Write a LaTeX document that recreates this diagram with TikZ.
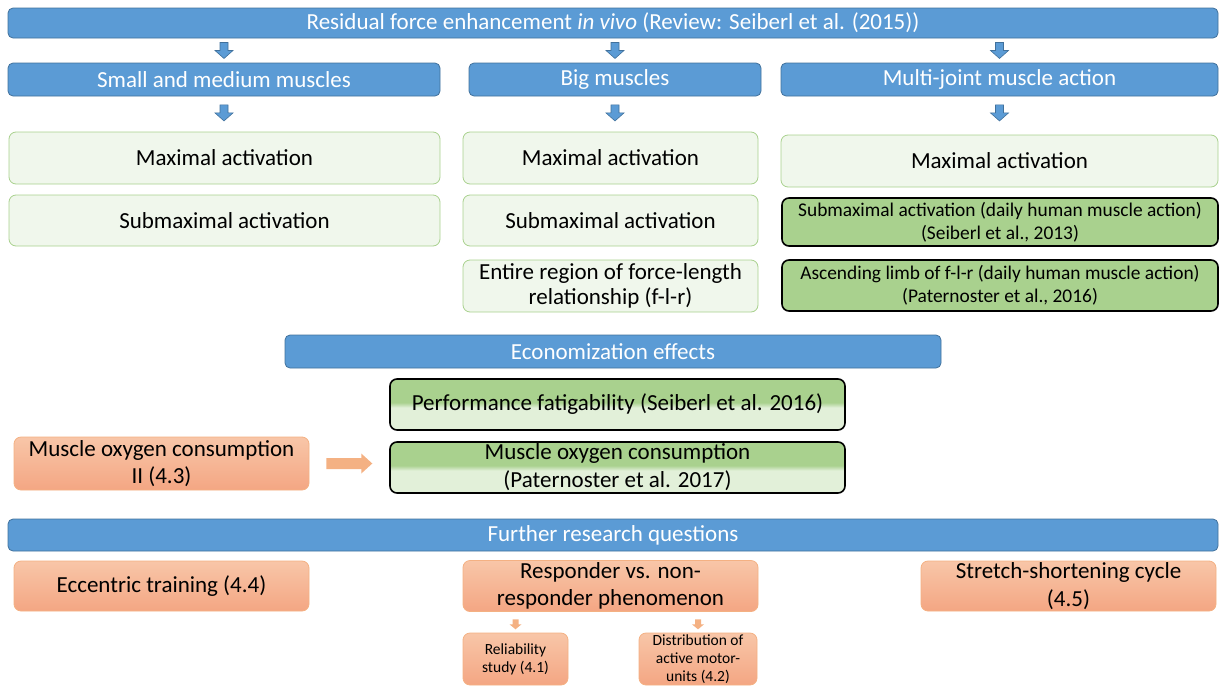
\documentclass[tikz,border=0pt]{standalone}
\usepackage{fontspec}
\setmainfont{Carlito}
\usetikzlibrary{calc}
\definecolor{hblue}{HTML}{5B9BD5}
\definecolor{hbord}{HTML}{41719C}
\definecolor{lgreen}{HTML}{F0F7EC}
\definecolor{gbord}{HTML}{A9D18E}
\definecolor{dgreen}{HTML}{A9D18E}
\definecolor{pgreen}{HTML}{E2F0D9}
\definecolor{orT}{HTML}{F8C6A8}
\definecolor{orB}{HTML}{F4A683}
\definecolor{orbord}{HTML}{F4B183}
\definecolor{orarrow}{HTML}{F4B183}
\pgfdeclareverticalshading{greensplit}{100bp}{color(0bp)=(pgreen); color(25bp)=(pgreen); color(47bp)=(pgreen); color(52bp)=(dgreen); color(75bp)=(dgreen); color(100bp)=(dgreen)}
\tikzset{
  hdr/.style={draw=hbord, fill=hblue, rounded corners=5, line width=0.8, text=white,
    font=\fontsize{23}{26}\selectfont, inner sep=0, align=center},
  lgbox/.style={draw=gbord, fill=lgreen, rounded corners=7, line width=0.8,
    font=\fontsize{23}{25}\selectfont, inner sep=0, align=center},
  dgbox/.style={draw=black, fill=dgreen, rounded corners=7, line width=1.6,
    font=\fontsize{19.4}{23}\selectfont, inner sep=0, align=center},
  splitbox/.style={draw=black, shading=greensplit, rounded corners=7, line width=1.6,
    font=\fontsize{23}{28}\selectfont, inner sep=0, align=center},
  orbox/.style={draw=orbord, top color=orT, bottom color=orB, rounded corners=7, line width=0.8,
    font=\fontsize{23}{27.5}\selectfont, inner sep=0, align=center},
  smallor/.style={orbox, font=\fontsize{15.5}{18}\selectfont},
  darr/.pic={\draw[fill=hblue, draw=hbord, line width=0.6] (-4,-8) -- (4,-8) -- (4,0) -- (9,0) -- (0,8) -- (-9,0) -- (-4,0) -- cycle;},
  sarr/.pic={\fill[orarrow] (-3,-5) -- (3,-5) -- (3,0) -- (6,0) -- (0,5) -- (-6,0) -- (-3,0) -- cycle;},
  rarr/.pic={\fill[orarrow] (-23,-5.5) -- (12,-5.5) -- (12,-10) -- (23,0) -- (12,10) -- (12,5.5) -- (-23,5.5) -- cycle;}
}
\begin{document}
\begin{tikzpicture}[x=1pt,y=-1pt]
\useasboundingbox (0,0) rectangle (1219,686);
% headers
\node[hdr, minimum width=1210, minimum height=30] (title) at (613,23) {Residual force enhancement \textit{in vivo} (Review: Seiberl et al. (2015))};
\node[hdr, minimum width=432, minimum height=33] (sm) at (224,79.5) {Small and medium muscles};
\node[hdr, minimum width=292, minimum height=33] (big) at (615,79.5) {Big muscles};
\node[hdr, minimum width=437, minimum height=33] (multi) at (999.5,79.5) {Multi-joint muscle action};
% green boxes
\node[lgbox, minimum width=431, minimum height=52] (L1) at (224.5,158) {Maximal activation};
\node[lgbox, minimum width=431, minimum height=51] (L2) at (224.5,220.5) {Submaximal activation};
\node[lgbox, minimum width=295, minimum height=52] (M1) at (610.5,158) {Maximal activation};
\node[lgbox, minimum width=295, minimum height=51] (M2) at (610.5,220.5) {Submaximal activation};
\node[lgbox, minimum width=295, minimum height=52] (M3) at (610.5,286) {Entire region of force-length\\relationship (f-l-r)};
\node[lgbox, minimum width=437, minimum height=52] (R1) at (999.5,161) {Maximal activation};
\node[dgbox, minimum width=436, minimum height=48] (R2) at (1000,222) {Submaximal activation (daily human muscle action)\\(Seiberl et al., 2013)};
\node[dgbox, minimum width=436, minimum height=51] (R3) at (1000,285.5) {Ascending limb of f-l-r (daily human muscle action)\\(Paternoster et al., 2016)};
% arrows row 1
\path (title.south -| sm.north) -- (sm.north) coordinate[pos=0.5] (a1);
\path (title.south -| big.north) -- (big.north) coordinate[pos=0.5] (a2);
\path (title.south -| multi.north) -- (multi.north) coordinate[pos=0.5] (a3);
\pic at (a1) {darr};
\pic at (a2) {darr};
\pic at (a3) {darr};
% arrows row 2
\path (sm.south) -- (L1.north -| sm.south) coordinate[pos=0.47] (b1);
\path (big.south) -- (M1.north -| big.south) coordinate[pos=0.47] (b2);
\path (multi.south) -- (L1.north -| multi.south) coordinate[pos=0.47] (b3);
\pic at (b1) {darr};
\pic at (b2) {darr};
\pic at (b3) {darr};
% economization
\node[hdr, minimum width=656, minimum height=33] (eco) at (613,351.5) {Economization effects};
\node[splitbox, minimum width=455, minimum height=51] (perf) at (617.5,404.5) {Performance fatigability (Seiberl et al. 2016)};
\node[splitbox, minimum width=455, minimum height=51] (oxy) at (617.5,467.5) {Muscle oxygen consumption\\(Paternoster et al. 2017)};
\node[orbox, minimum width=295, minimum height=53] (oxy2) at (161.5,463.5) {Muscle oxygen consumption\\II (4.3)};
\path (oxy2.east) -- (oxy.west |- oxy2.east) coordinate[pos=0.5] (c1);
\pic at (c1) {rarr};
% further research
\node[hdr, minimum width=1210, minimum height=32] (fur) at (613,535) {Further research questions};
\node[orbox, minimum width=295, minimum height=50] (ecc) at (161.5,586) {Eccentric training (4.4)};
\node[orbox, minimum width=295, minimum height=51] (resp) at (610.5,586) {Responder vs. non-\\responder phenomenon};
\node[orbox, minimum width=295, minimum height=50] (ssc) at (1068.5,586) {Stretch-shortening cycle\\(4.5)};
\node[smallor, minimum width=105, minimum height=52] (rel) at (515.5,659) {Reliability\\study (4.1)};
\node[smallor, minimum width=118, minimum height=52] (dist) at (698,659) {Distribution of\\active motor-\\units (4.2)};
\path (resp.south -| rel.north) -- (rel.north) coordinate[pos=0.6] (d1);
\path (resp.south -| dist.north) -- (dist.north) coordinate[pos=0.6] (d2);
\pic at (d1) {sarr};
\pic at (d2) {sarr};
\end{tikzpicture}
\end{document}
